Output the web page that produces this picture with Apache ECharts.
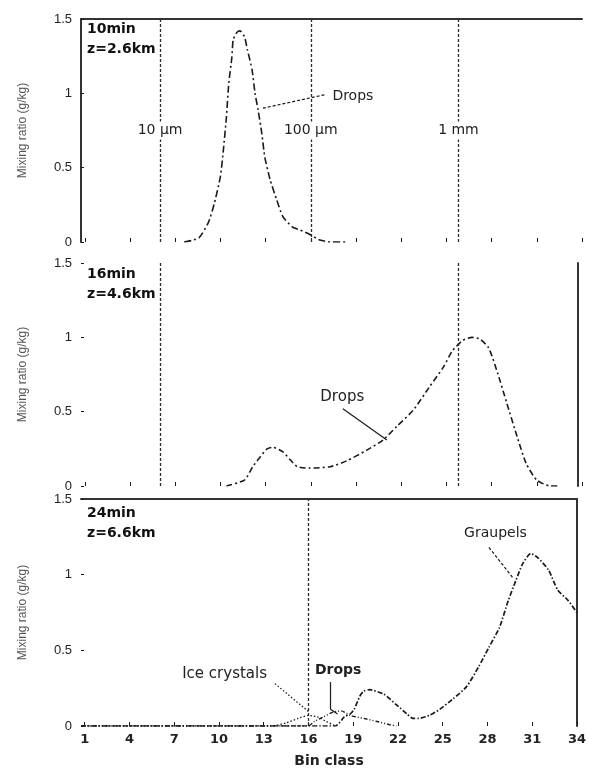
<!DOCTYPE html>
<html><head><meta charset="utf-8">
<script src="https://cdn.jsdelivr.net/npm/echarts@6/dist/echarts.min.js"></script>
<style>html,body{margin:0;padding:0;background:#fff}#c{width:589px;height:769px}</style>
</head><body><div id="c"></div>
<script>
// ---- data ----
const binTicks = [1,4,7,10,13,16,19,22,25,28,31,34];
const yTicks = [0, 0.5, 1, 1.5];
const panelTitles = [["10min","z=2.6km"],["16min","z=4.6km"],["24min","z=6.6km"]];
const sizeMarks1 = [6, 16, 25.8];
const sizeMarks2 = [6, 25.8];
const sizeMarks3 = [16];
const sizeLabels = ["10 μm", "100 μm", "1 mm"];
// panel 1 (10 min) drops: [bin class, mixing ratio]
const drops10 = [[7.6,0],[8.1,0.01],[8.6,0.03],[9.2,0.13],[9.6,0.26],[10.0,0.44],[10.2,0.62],[10.4,0.84],[10.56,1.07],[10.76,1.24],[10.85,1.36],[11.1,1.41],[11.3,1.42],[11.6,1.38],[11.8,1.29],[12.1,1.16],[12.3,1.0],[12.5,0.89],[12.75,0.73],[12.95,0.57],[13.3,0.42],[13.75,0.28],[14.15,0.17],[14.8,0.10],[15.3,0.08],[15.94,0.05],[16.6,0.013],[17.3,0],[18.3,0]];
// panel 2 (16 min) drops
const drops16 = [[10.4,0],[11.6,0.04],[12.15,0.13],[12.6,0.19],[13.1,0.25],[13.5,0.26],[14.15,0.23],[14.6,0.18],[15.1,0.13],[15.9,0.12],[17.3,0.13],[18.4,0.17],[19.7,0.24],[20.8,0.31],[21.7,0.4],[22.8,0.51],[23.9,0.67],[24.8,0.8],[25.4,0.91],[26.1,0.98],[26.7,1.0],[27.2,0.99],[27.8,0.93],[28.4,0.76],[29.0,0.56],[29.7,0.33],[30.3,0.15],[31.0,0.04],[31.9,0],[32.5,0]];
// panel 3 (24 min)
const graupel24 = [[0.75,0],[17.8,0],[18.4,0.06],[18.8,0.08],[19.06,0.11],[19.46,0.2],[19.7,0.23],[20.1,0.24],[21.05,0.21],[21.9,0.14],[22.6,0.08],[23.0,0.05],[23.4,0.05],[24.1,0.07],[24.8,0.11],[25.7,0.18],[26.6,0.26],[27.4,0.39],[28.1,0.52],[28.8,0.65],[29.4,0.83],[29.9,0.96],[30.35,1.07],[30.9,1.14],[31.4,1.11],[32.1,1.03],[32.7,0.90],[33.4,0.83],[34,0.75]];
const drops24 = [[0.75,0],[16.0,0],[16.4,0.03],[17.0,0.06],[17.6,0.09],[18.2,0.1],[18.8,0.07],[19.7,0.05],[20.6,0.03],[21.4,0.01],[21.9,0]];
const ice24 = [[0.75,0],[13.5,0],[14.5,0.02],[15.3,0.05],[16.0,0.07],[16.6,0.06],[17.2,0.03],[17.8,0]];

const FONT = '"Liberation Sans", Arial, sans-serif';
const WFONT = '"DejaVu Sans", Verdana, sans-serif';
const INK = '#1a1a1a';
const grids = [
  {left:81, right:7, top:19, height:223},
  {left:81, right:7, top:263, height:223},
  {left:81, right:7, top:499, height:228}
];

function xAxisFor(i, showLabels){
  return {
    type:'value', gridIndex:i, min:0.75, max:34,
    axisLine:{show:false},
    axisTick:{show:true, inside:true, length:4, customValues:binTicks, lineStyle:{color:INK}},
    axisLabel:{show:showLabels, customValues:binTicks, fontFamily:WFONT, fontSize:13, fontWeight:'bold', color:'#222', margin:7},
    splitLine:{show:false},
    name: showLabels ? 'Bin class' : '', nameLocation:'middle', nameGap:28,
    nameTextStyle:{fontFamily:WFONT, fontSize:14, fontWeight:'bold', color:'#222'}
  };
}
function borderX(i){
  return {type:'value', gridIndex:i, position:'top', min:0.75, max:34,
    axisLine:{show:true, onZero:false, lineStyle:{color:'#333', width:2}},
    axisTick:{show:false}, axisLabel:{show:false}, splitLine:{show:false}};
}
function yAxisFor(i, showLine){
  return {
    type:'value', gridIndex:i, min:0, max:1.5, interval:0.5,
    axisLine:{show:showLine, lineStyle:{color:'#333', width:2}},
    axisTick:{show:true, inside:true, length:3, lineStyle:{color:INK}},
    axisLabel:{fontFamily:FONT, fontSize:13, color:'#222', margin:9},
    splitLine:{show:false},
    name:'Mixing ratio (g/kg)', nameLocation:'middle', nameGap:52,
    nameTextStyle:{fontFamily:FONT, fontSize:12, color:'#555'}
  };
}
function borderY(i, off){
  return {type:'value', gridIndex:i, position:'right', min:0, max:1.5, offset:off,
    axisLine:{show:true, lineStyle:{color:'#333', width:2}},
    axisTick:{show:false}, axisLabel:{show:false}, splitLine:{show:false}};
}

const vStyle = {color:'#2a2a2a', width:1.3, type:[3,2]};
function vLines(marks){ return marks.map(v => ({xAxis:v, lineStyle:vStyle})); }
function seg(a, b, style){ return [{coord:a, lineStyle:style}, {coord:b}]; }
function txt(coord, text, pos, lab){
  return {coord:coord, value:text, symbol:'circle', symbolSize:1, itemStyle:{color:'rgba(0,0,0,0)'},
    label:Object.assign({show:true, position:pos, distance:0, formatter:text, fontFamily:WFONT, fontSize:14, color:'#222'}, lab||{})};
}

const xAxes = [xAxisFor(0,false), xAxisFor(1,false), xAxisFor(2,true), borderX(0), borderX(2)];
const yAxes = [yAxisFor(0,true), yAxisFor(1,false), yAxisFor(2,false), borderY(1,-4), borderY(2,0)];

const labelBg = {backgroundColor:'#fff', padding:[2,1], fontSize:14};
const series = [
  {type:'line', xAxisIndex:0, yAxisIndex:0, data:drops10, smooth:0.2, symbol:'none',
    lineStyle:{color:INK, width:1.6, type:[7,3,2,3]},
    markLine:{silent:true, symbol:['none','none'], label:{show:false}, animation:false,
      data: vLines(sizeMarks1).concat([seg([12.82,0.90],[16.9,0.99], {color:INK, width:1.2, type:[3,2]})])},
    markPoint:{z:20, silent:true, animation:false, data:[
      txt([17.4,0.98],'Drops','right'),
      txt([sizeMarks1[0],0.75],sizeLabels[0],'inside',labelBg),
      txt([sizeMarks1[1],0.75],sizeLabels[1],'inside',labelBg),
      txt([sizeMarks1[2],0.75],sizeLabels[2],'inside',labelBg)
    ]}},
  {type:'line', xAxisIndex:1, yAxisIndex:1, data:drops16, smooth:0.2, symbol:'none',
    lineStyle:{color:INK, width:1.6, type:[6,3,2,3]},
    markLine:{silent:true, symbol:['none','none'], label:{show:false}, animation:false,
      data: vLines(sizeMarks2).concat([seg([18.13,0.52],[21.05,0.31], {color:INK, width:1.2, type:'solid'})])},
    markPoint:{z:20, silent:true, animation:false, data:[ txt([16.6,0.6],'Drops','right',{fontSize:15}) ]}},
  {type:'line', xAxisIndex:2, yAxisIndex:2, data:graupel24, smooth:0.2, symbol:'none',
    lineStyle:{color:INK, width:1.7, type:[5,2,1.5,2]},
    markLine:{silent:true, symbol:['none','none'], label:{show:false}, animation:false,
      data: vLines(sizeMarks3).concat([
        seg([28.1,1.18],[29.7,0.98], {color:INK, width:1.2, type:[3,2]}),
        seg([17.47,0.29],[17.47,0.11], {color:INK, width:1.2, type:'solid'}),
        seg([17.47,0.11],[17.95,0.08], {color:INK, width:1.2, type:'solid'}),
        seg([13.75,0.28],[16.07,0.09], {color:INK, width:1.2, type:[1.5,2]})
      ])},
    markPoint:{z:20, silent:true, animation:false, data:[
      txt([26.4,1.27],'Graupels','right',{fontSize:14}),
      txt([16.4,0.37],'Drops','right',{fontWeight:'bold', fontSize:14}),
      txt([7.5,0.34],'Ice crystals','right',{fontSize:15})
    ]}},
  {type:'line', xAxisIndex:2, yAxisIndex:2, data:drops24, smooth:0.2, symbol:'none',
    lineStyle:{color:INK, width:1.4, type:[4,2,1,2,1,2]}},
  {type:'line', xAxisIndex:2, yAxisIndex:2, data:ice24, smooth:0.2, symbol:'none',
    lineStyle:{color:INK, width:1.3, type:[1.5,2]}}
];

const titleTops = [19, 264, 503];
const titleTexts = panelTitles.map((t, i) => ({type:'text', left:87, top:titleTops[i],
    style:{text:t[0] + '\n' + t[1], font:'bold 14px ' + WFONT, fill:'#111', lineHeight:20}}));

const chart = echarts.init(document.getElementById('c'), null, {renderer:'canvas'});
chart.setOption({
  animation:false,
  backgroundColor:'#fff',
  grid:grids,
  xAxis:xAxes,
  yAxis:yAxes,
  series:series,
  graphic:titleTexts
});
</script></body></html>
